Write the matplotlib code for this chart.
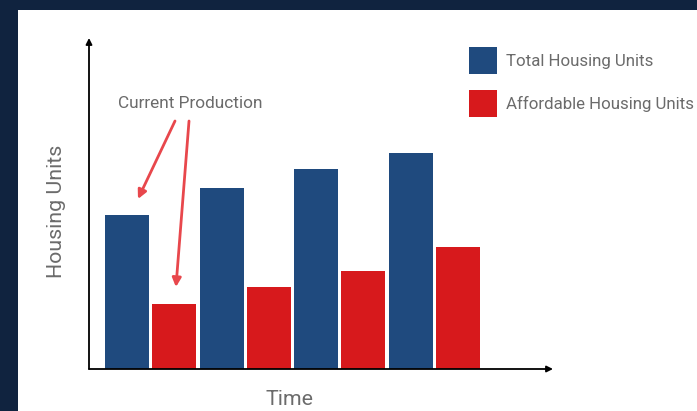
import matplotlib.pyplot as plt
from matplotlib.patches import Rectangle

# values (arbitrary units, no scale shown)
periods = [0, 1, 2, 3]
total_units = [154, 181, 200, 216]
affordable_units = [65, 82, 98, 122]

NAVY = "#10233f"
BLUE = "#1f4a7e"
RED = "#d7191c"
ARROW_RED = "#e8474c"
GREY = "#6b6b6b"

plt.rcParams["font.family"] = ["Roboto", "DejaVu Sans"]

W, H = 697, 411
fig = plt.figure(figsize=(W / 100, H / 100), dpi=100, facecolor=NAVY)

# white slide panel, kept behind the axes
fig.patches.append(Rectangle((18 / W, 0), 1 - 18 / W, 1 - 10 / H,
                             transform=fig.transFigure, facecolor="white",
                             edgecolor="none", zorder=-10))

ax = fig.add_axes([89 / W, (H - 369) / H, (553 - 89) / W, (369 - 38) / H])
ax.set_facecolor("none")
for s in ax.spines.values():
    s.set_visible(False)
ax.set_xticks([])
ax.set_yticks([])

offset = 0.248
width = 0.465
ax.bar([p - offset for p in periods], total_units, width=width, color=BLUE,
       label="Total Housing Units", zorder=2)
ax.bar([p + offset for p in periods], affordable_units, width=width, color=RED,
       label="Affordable Housing Units", zorder=2)

ax.set_xlim(-0.649, 4.25)
ax.set_ylim(0, 331)

# axis arrows
arrow_kw = dict(arrowstyle="-|>", color="black", lw=1.3,
                mutation_scale=9, shrinkA=0, shrinkB=0)
ax.annotate("", xy=(0, 1), xytext=(0, 0), xycoords="axes fraction",
            arrowprops=arrow_kw, annotation_clip=False)
ax.annotate("", xy=(1, 0), xytext=(0, 0), xycoords="axes fraction",
            arrowprops=arrow_kw, annotation_clip=False)

ax.set_xlabel("Time", fontsize=15.4, color=GREY)
ax.set_ylabel("Housing Units", fontsize=15.4, color=GREY)
ax.xaxis.set_label_coords((290 - 89) / 464, -0.0635)
ax.yaxis.set_label_coords(-0.0496, 0.477)

# "Current Production" callout
ax.text(0.417, 266, "Current Production", fontsize=12.4, color=GREY,
        ha="center", va="center")
red_kw = dict(arrowstyle="-|>", color=ARROW_RED, lw=2,
              mutation_scale=13, shrinkA=0, shrinkB=0)
ax.annotate("", xy=(-0.132, 170), xytext=(0.259, 248), arrowprops=red_kw)
ax.annotate("", xy=(0.269, 82), xytext=(0.407, 248), arrowprops=red_kw)

leg_pt = 12.2
fs = leg_pt * 100 / 72
hh = (27 / fs - 0.245) / 0.65
ax.legend(loc="upper left", bbox_to_anchor=(469 / W, 1 - 47 / H),
          bbox_transform=fig.transFigure, frameon=False, fontsize=leg_pt,
          labelcolor=GREY, borderpad=0, borderaxespad=0,
          handlelength=28 / fs, handleheight=hh,
          handletextpad=9 / fs, labelspacing=(43 - 27) / fs)

fig.savefig("out.png", dpi=100, facecolor=NAVY)
